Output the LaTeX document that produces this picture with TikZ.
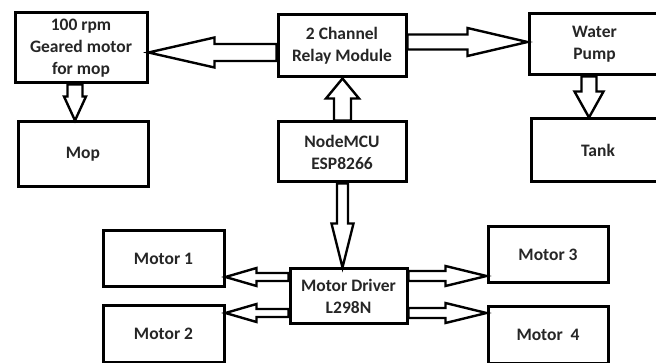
\documentclass[tikz,border=0pt]{standalone}
\usepackage{fontspec}
\setmainfont{Carlito}
\usetikzlibrary{calc}

% hollow block arrow: #1 start, #2 tip, #3 shaft half width, #4 head half width, #5 head length
\newcommand\hollowarrow[5]{%
  \path #1 coordinate (ha) #2 coordinate (hz);
  \path ($(hz)!#5!(ha)$) coordinate (hb);
  \draw[blockarrow]
    ($(ha)!#3!90:(hz)$) -- ($(hb)!#3!-90:(ha)$) -- ($(hb)!#4!-90:(ha)$) -- (hz)
    -- ($(hb)!#4!90:(ha)$) -- ($(hb)!#3!90:(ha)$) -- ($(ha)!#3!-90:(hz)$) -- cycle;}

\begin{document}
\begin{tikzpicture}[x=1pt,y=-1pt,
  block/.style={draw=black, line width=3pt, align=center, inner sep=0pt,
    text=black!85, font=\bfseries\fontsize{17.5}{22}\selectfont},
  blockarrow/.style={draw=black, line width=2.4pt, line join=miter}]
\clip (0,0) rectangle (656,363);
\fill[white] (0,0) rectangle (656,363);

% blocks
\node[block, minimum width=132pt, minimum height=70pt] (gear) at (81,48) {100 rpm\\Geared motor\\for mop};
\node[block, minimum width=130pt, minimum height=65pt] (mop) at (83,154.5) {Mop};
\node[block, minimum width=128pt, minimum height=62pt] (relay) at (342,46) {2 Channel\\Relay Module};
\node[block, minimum width=128pt, minimum height=60pt] (mcu) at (342,152) {NodeMCU\\ESP8266};
\node[block, minimum width=131pt, minimum height=61pt] (pump) at (594.5,44.5) {Water\\Pump};
\node[block, minimum width=134pt, minimum height=63pt] (tank) at (598,150.5) {Tank};
\node[block, minimum width=121pt, minimum height=56pt] (m1) at (163.5,259) {Motor 1};
\node[block, minimum width=121pt, minimum height=56pt] (m2) at (163.5,334) {Motor 2};
\node[block, minimum width=117pt, minimum height=55pt] (drv) at (348.5,296.5) {Motor Driver\\L298N};
\node[block, minimum width=120pt, minimum height=56pt] (m3) at (548,255) {Motor 3};
\node[block, minimum width=120pt, minimum height=56pt] (m4) at (548,335) {Motor \ 4};

% connectors
\hollowarrow{([yshift=-6.5pt]relay.west)}{([yshift=-4.5pt]gear.east)}{8.5pt}{15pt}{66pt}
\hollowarrow{([yshift=4pt]relay.east)}{([yshift=2.5pt]pump.west)}{7.5pt}{14pt}{60pt}
\hollowarrow{([xshift=-6pt]gear.south)}{([xshift=-8pt]mop.north)}{7.5pt}{11pt}{24pt}
\hollowarrow{([xshift=0.5pt]mcu.north)}{([xshift=0.5pt]relay.south)}{8.5pt}{16.5pt}{20pt}
\hollowarrow{([xshift=-5.5pt]pump.south)}{([xshift=-9pt]tank.north)}{7.5pt}{14.5pt}{26pt}
\hollowarrow{([xshift=0.5pt]mcu.south)}{([xshift=-6pt]drv.north)}{5.5pt}{11pt}{44pt}
\hollowarrow{([yshift=19.5pt]drv.west)}{([yshift=-18pt]m1.east)}{4pt}{9pt}{31pt}
\hollowarrow{([yshift=-16.5pt]drv.west)}{([yshift=21pt]m2.east)}{4pt}{9pt}{31pt}
\hollowarrow{([yshift=20.5pt]drv.east)}{([yshift=-21pt]m3.west)}{5pt}{10pt}{41pt}
\hollowarrow{([yshift=-16.5pt]drv.east)}{([yshift=22pt]m4.west)}{5pt}{10pt}{41pt}
\end{tikzpicture}
\end{document}
